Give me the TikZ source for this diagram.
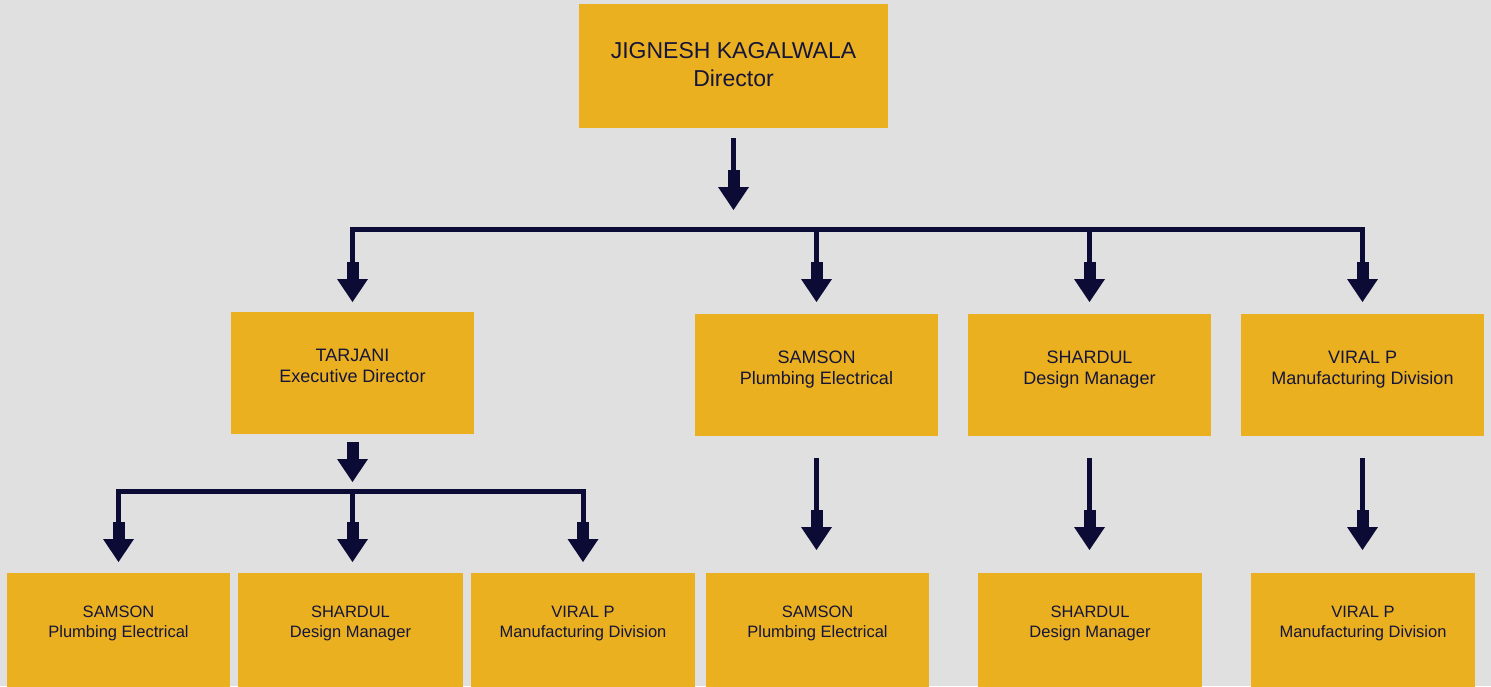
\documentclass[tikz,border=0pt]{standalone}
\usepackage{fontspec}
\setmainfont{Liberation Sans}
\usetikzlibrary{arrows.meta}
\definecolor{bgc}{HTML}{E0E0E0}
\definecolor{boxc}{HTML}{EAB01F}
\definecolor{navy}{HTML}{0B0B35}
\definecolor{txtc}{HTML}{15153A}
\tikzset{
  box/.style={fill=boxc, draw=none, inner sep=0pt},
  lbl/.style={text=txtc, align=center, inner sep=0pt, text depth=0pt},
  lbltop/.style={lbl, font=\fontsize{23}{28.4}\selectfont},
  lblmid/.style={lbl, font=\fontsize{18}{21}\selectfont},
  lblbot/.style={lbl, font=\fontsize{16.5}{20}\selectfont},
  conn/.style={draw=navy, line width=5pt},
  barline/.style={conn, line cap=rect},
  arr/.style={-{Rectangle[length=17.5pt,width=12pt,line width=0pt,sep=0pt] Triangle[length=23pt,width=31pt,line width=0pt,sep=0pt]}},
}
\begin{document}
\begin{tikzpicture}[x=1pt,y=-1pt]
\fill[bgc] (0,0) rectangle (1491,686);
\useasboundingbox (0,0) rectangle (1491,686);
\clip (0,0) rectangle (1491,686);

% boxes
\node[box, minimum width=309pt, minimum height=124pt] (top) at (733.5,66) {};
\node[box, minimum width=243pt, minimum height=122pt] (tarjani) at (352.5,373) {};
\node[box, minimum width=243pt, minimum height=122pt] (samsonB) at (816.5,375) {};
\node[box, minimum width=243pt, minimum height=122pt] (shardulB) at (1089.5,375) {};
\node[box, minimum width=243pt, minimum height=122pt] (viralB) at (1362.5,375) {};
\node[box, minimum width=223pt, minimum height=122pt] (samsonC) at (118.5,634) {};
\node[box, minimum width=225pt, minimum height=122pt] (shardulC) at (350.5,634) {};
\node[box, minimum width=224pt, minimum height=122pt] (viralC) at (583,634) {};
\node[box, minimum width=223pt, minimum height=122pt] (samsonD) at (817.5,634) {};
\node[box, minimum width=224pt, minimum height=122pt] (shardulD) at (1090,634) {};
\node[box, minimum width=224pt, minimum height=122pt] (viralD) at (1363,634) {};

% labels
\node[lbltop] (tTop) at (733.5,64.2) {JIGNESH KAGALWALA\\Director};
\node[lblmid] (tTarjani) at (352.5,366) {TARJANI\\Executive Director};
\node[lblmid] (tSamsonB) at (816.5,367.5) {SAMSON\\Plumbing Electrical};
\node[lblmid] (tShardulB) at (1089.5,367.5) {SHARDUL\\Design Manager};
\node[lblmid] (tViralB) at (1362.5,367.5) {VIRAL P\\Manufacturing Division};
\node[lblbot] (tSamsonC) at (118.5,621.7) {SAMSON\\Plumbing Electrical};
\node[lblbot] (tShardulC) at (350.5,621.7) {SHARDUL\\Design Manager};
\node[lblbot] (tViralC) at (583,621.7) {VIRAL P\\Manufacturing Division};
\node[lblbot] (tSamsonD) at (817.5,621.7) {SAMSON\\Plumbing Electrical};
\node[lblbot] (tShardulD) at (1090,621.7) {SHARDUL\\Design Manager};
\node[lblbot] (tViralD) at (1363,621.7) {VIRAL P\\Manufacturing Division};

% helper coordinates
\coordinate (topTip) at (733.5,210);
\coordinate (barA) at (733.5,229);
\coordinate (tipA) at (733.5,302);
\coordinate (subTip) at (352.5,482);
\coordinate (barB) at (352.5,491);
\coordinate (tipB) at (352.5,562);
\coordinate (tipD) at (817.5,550);

% top level
\draw[conn, arr, shorten <=10pt] (top.south) -- (topTip);
\draw[barline] (tarjani.north |- barA) -- (viralB.north |- barA);
\draw[conn, arr] (tarjani.north |- barA) -- (tarjani.north |- tipA);
\draw[conn, arr] (samsonB.north |- barA) -- (samsonB.north |- tipA);
\draw[conn, arr] (shardulB.north |- barA) -- (shardulB.north |- tipA);
\draw[conn, arr] (viralB.north |- barA) -- (viralB.north |- tipA);

% tarjani subtree
\draw[conn, arr, shorten <=8pt] (tarjani.south) -- (subTip);
\draw[barline] (samsonC.north |- barB) -- (viralC.north |- barB);
\draw[conn, arr] (samsonC.north |- barB) -- (samsonC.north |- tipB);
\draw[conn, arr] (barB) -- (tipB);
\draw[conn, arr] (viralC.north |- barB) -- (viralC.north |- tipB);

% single columns
\draw[conn, arr, shorten <=22pt] (samsonB.south) -- (samsonB.south |- tipD);
\draw[conn, arr, shorten <=22pt] (shardulB.south) -- (shardulB.south |- tipD);
\draw[conn, arr, shorten <=22pt] (viralB.south) -- (viralB.south |- tipD);
\end{tikzpicture}
\end{document}
